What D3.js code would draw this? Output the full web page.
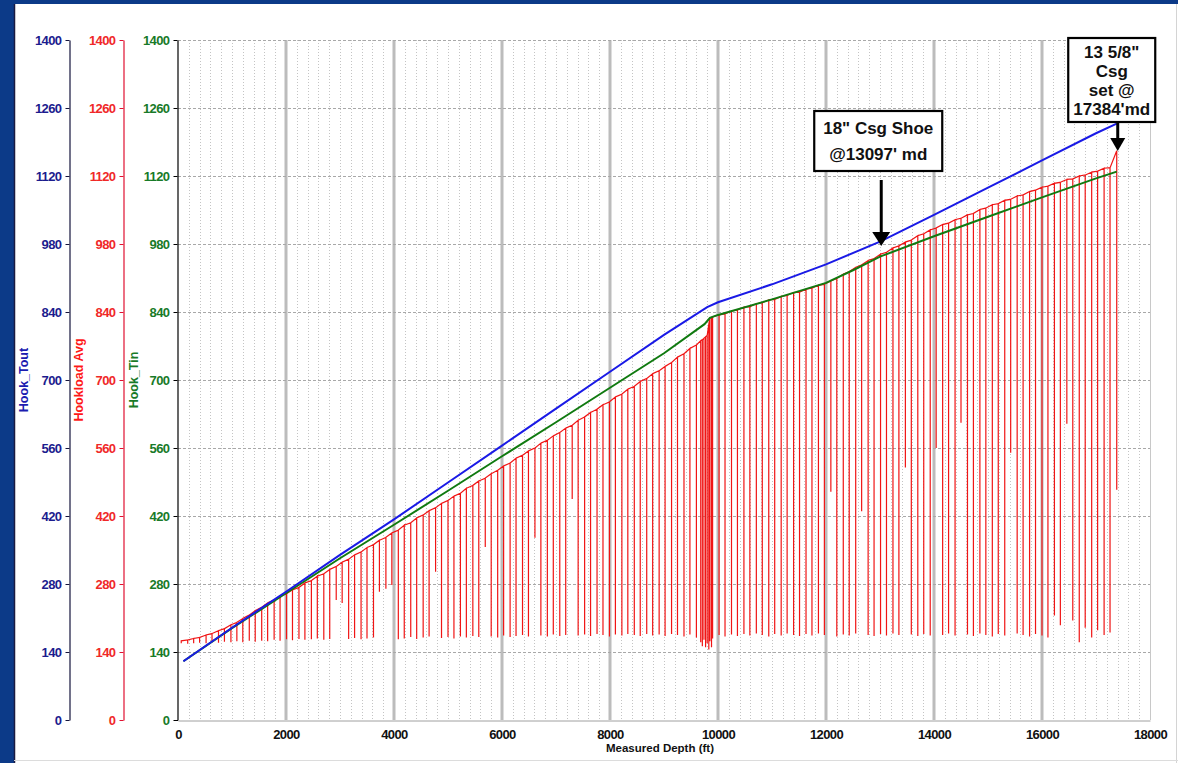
<!DOCTYPE html>
<html><head><meta charset="utf-8">
<script src="https://cdn.jsdelivr.net/npm/d3@7"></script>
<style>html,body{margin:0;padding:0;background:#0c3a88;overflow:hidden}svg{display:block}</style>
</head><body><svg id="c" width="1178" height="763"></svg>
<script>
// ---------- data ----------
const xTicks = [0,2000,4000,6000,8000,10000,12000,14000,16000,18000];
const yTicks = [0,140,280,420,560,700,840,980,1120,1260,1400];
const xTitle = "Measured Depth (ft)";
const axisTitles = ["Hook_Tout","Hookload Avg","Hook_Tin"];

// Hook_Tout (blue)
const toutDepth = [100,1000,2000,3000,4000,5000,6000,7000,8000,9000,9800,10000,11000,12000,13000,14000,15000,16000,17000,17384];
const toutVal   = [121,190,264,340,413,489,565,641,717,793,850,860,897,938,985,1040,1096,1152,1208,1228];

// Hook_Tin (green)
const tinDepth = [100,1000,2000,3000,4000,5000,6000,7000,8000,9000,9750,9850,10000,11000,12000,12500,13000,14000,15000,16000,17000,17384];
const tinVal   = [121,189,261,333,402,472,543,613,684,755,815,828,834,866,900,926,954,996,1036,1076,1115,1129];

// Hookload Avg (red): [depth, top of trace, bottom of drop]
const hookload = [
[60,163,158],[180,165,157],[290,168,158],[400,170,159],[520,175,158],[630,178,160],[750,184,159],[860,188,161],[980,196,160],[1090,201,162],[1200,209,160],[1320,216,163],[1430,225,161],[1550,232,163],[1660,241,162],[1780,247,165],[1890,255,163],[2010,260,166],
[2120,268,164],[2240,273,167],[2350,282,165],[2470,287,166],[2580,296,168],[2700,301,165],[2810,310,167],[2930,316,247],[3040,325,241],[3160,331,167],[3270,340,169],[3390,346,166],[3500,355,168],[3620,361,170],[3730,370,264],[3850,376,270],[3960,385,278],[4080,391,166],[4190,401,168],[4310,406,171],[4420,416,167],[4540,422,170],[4650,431,172],[4770,437,305],[4880,446,169],[5000,452,171],[5110,461,168],[5230,467,172],[5340,477,170],[5460,483,173],[5570,492,171],[5690,498,356],[5800,507,172],[5920,514,170],[6030,523,174],[6150,529,171],[6260,539,173],[6380,545,175],[6490,554,172],[6610,560,375],[6720,570,174],[6840,576,172],[6950,585,176],[7070,592,173],[7180,601,175],[7300,607,455],[7410,617,174],[7530,624,176],[7640,633,173],[7760,640,177],[7870,649,175],[7990,655,172],[8100,665,176],[8220,671,174],[8330,681,177],[8450,687,175],[8560,697,173],[8680,703,177],[8790,713,174],[8910,719,176],[9020,728,173],[9140,736,177],[9250,747,175],[9370,754,172],[9480,765,176],[9600,772,170],[9680,781,160],[9710,783,152],[9740,786,165],[9770,789,150],[9800,792,158],[9830,815,145],[9850,828,162],[9880,829,150],[9900,830,168],
[10020,834,175],[10130,836,172],[10250,842,176],[10360,844,173],[10480,850,177],[10590,851,174],[10710,857,178],[10820,859,175],[10940,865,172],[11050,866,177],[11170,872,174],[11280,874,178],[11400,880,175],[11510,881,173],[11630,887,177],[11740,889,174],[11860,895,178],[11970,897,175],[12090,904,470],[12200,909,172],[12320,918,176],[12430,923,174],[12550,932,178],[12660,937,430],[12780,946,175],[12890,950,173],[13010,959,177],[13120,963,174],[13240,972,178],[13350,976,175],[13470,984,520],[13580,988,176],[13700,997,173],[13810,1001,177],[13930,1009,174],[14040,1013,560],[14160,1020,175],[14270,1023,178],[14390,1030,174],[14500,1033,612],[14620,1040,176],[14730,1043,173],[14850,1051,178],[14960,1054,175],[15080,1061,172],[15190,1063,177],[15310,1070,174],[15420,1072,550],[15540,1079,178],[15650,1081,175],[15770,1088,172],[15880,1091,177],[16000,1097,174],[16110,1099,170],[16230,1105,215],[16340,1107,195],[16460,1113,610],[16570,1114,205],[16690,1120,160],[16800,1122,190],[16920,1128,170],[17030,1130,185],[17150,1136,175],[17260,1137,180],[17384,1172,474]
];

const anno1Lines = ['18" Csg Shoe', "@13097' md"];
const anno1Depth = 13097;
const anno2Lines = ['13 5/8"', 'Csg', 'set @', "17384'md"];
const anno2Depth = 17384;

// ---------- drawing ----------
const svg = d3.select("#c");
const W = 1178, H = 763;
svg.append("rect").attr("width",W).attr("height",H).attr("fill","#0c3a88");
svg.append("rect").attr("x",14).attr("y",4).attr("width",W-14).attr("height",H-4).attr("fill","#ffffff");
svg.append("line").attr("x1",14.5).attr("x2",14.5).attr("y1",4).attr("y2",H).attr("stroke","#1a1a40").attr("stroke-width",1.5);
svg.append("line").attr("x1",1176.5).attr("x2",1176.5).attr("y1",4).attr("y2",H).attr("stroke","#d4d4d4");
svg.append("line").attr("x1",14).attr("x2",W).attr("y1",760.5).attr("y2",760.5).attr("stroke","#dcdcdc");

const x = d3.scaleLinear().domain([0,18000]).range([178,1150]);
const y = d3.scaleLinear().domain([0,1400]).range([720,40]);

const grid = svg.append("g");
const minor = d3.range(200, 18000, 200).filter(v => v % 2000 !== 0);
grid.selectAll("line.minor").data(minor).join("line")
  .attr("x1",d=>Math.round(x(d))+0.5).attr("x2",d=>Math.round(x(d))+0.5)
  .attr("y1",y(1400)).attr("y2",y(0))
  .attr("stroke","#c4c4c4").attr("stroke-dasharray","1,2");
grid.selectAll("line.major").data(xTicks.filter(v=>v>0 && v<18000)).join("line")
  .attr("x1",d=>x(d)).attr("x2",d=>x(d))
  .attr("y1",y(1400)).attr("y2",y(0))
  .attr("stroke","#bcbcbc").attr("stroke-width",3);
grid.append("line").attr("x1",x(18000)+0.5).attr("x2",x(18000)+0.5).attr("y1",y(1400)).attr("y2",y(0))
  .attr("stroke","#c8c8c8");
grid.selectAll("line.h").data(yTicks.filter(v=>v>0)).join("line")
  .attr("x1",x(0)).attr("x2",x(18000))
  .attr("y1",d=>Math.round(y(d))+0.5).attr("y2",d=>Math.round(y(d))+0.5)
  .attr("stroke","#a8a8a8").attr("stroke-dasharray","3,2");

// red trace
let redPts = [];
hookload.forEach(d => { redPts.push([d[0],d[1]]); redPts.push([d[0],d[2]]); redPts.push([d[0],d[1]]); });
const line = d3.line().x(d=>x(d[0])).y(d=>y(d[1]));
svg.append("path").datum(redPts).attr("d",line)
  .attr("fill","none").attr("stroke","#f01515").attr("stroke-width",1.2);

svg.append("path").datum(tinDepth.map((d,i)=>[d,tinVal[i]])).attr("d",line)
  .attr("fill","none").attr("stroke","#107a10").attr("stroke-width",2);
svg.append("path").datum(toutDepth.map((d,i)=>[d,toutVal[i]])).attr("d",line)
  .attr("fill","none").attr("stroke","#1a1ae6").attr("stroke-width",2);

// axes
const font = "'Liberation Sans', Arial, sans-serif";
function styleText(sel, color){
  sel.attr("fill",color).style("font-family",font).style("font-weight","bold")
    .style("font-size","13px").style("letter-spacing","-0.6px");
}
function yAxis(xPos, color, lineColor){
  const g = svg.append("g").attr("transform",`translate(${xPos},0)`)
    .call(d3.axisLeft(y).tickValues(yTicks).tickFormat(d3.format("d")).tickSize(4).tickSizeOuter(0).tickPadding(4));
  g.select(".domain").attr("stroke",lineColor).attr("stroke-width",1.2);
  g.selectAll(".tick line").attr("stroke",lineColor);
  styleText(g.selectAll("text"), color);
  return g;
}
yAxis(69.5, "#1c1c8e", "#14143c");
yAxis(123.5, "#f02828", "#e01030");
yAxis(177.5, "#187a28", "#000000");

const xa = svg.append("g").attr("transform",`translate(0,${y(0)+0.5})`)
  .call(d3.axisBottom(x).tickValues(xTicks).tickFormat(d3.format("d")).tickSize(0).tickPadding(9));
xa.select(".domain").attr("stroke","#a0a0a0");
styleText(xa.selectAll("text"), "#111");
svg.append("line").attr("x1",174).attr("x2",178).attr("y1",720.5).attr("y2",720.5).attr("stroke","#000");

svg.append("text").attr("x",660).attr("y",752).attr("text-anchor","middle")
  .attr("fill","#111").style("font-family",font).style("font-weight","bold").style("font-size","11.5px").text(xTitle);

const titleX = [24, 79, 134], titleC = ["#1c1cb0","#ff1818","#187a28"];
axisTitles.forEach((t,i)=>{
  svg.append("text").attr("transform",`translate(${titleX[i]+4},380) rotate(-90)`)
    .attr("text-anchor","middle").attr("fill",titleC[i])
    .style("font-family",font).style("font-weight","bold").style("font-size","12.5px").text(t);
});

// annotations
function annotate(lines, w, cx, top, bottom, arrowX, arrowTop, tipY, hw, hh){
  const g = svg.append("g");
  g.append("rect").attr("x",cx-w/2).attr("y",top).attr("width",w).attr("height",bottom-top)
    .attr("fill","#fff").attr("stroke","#000").attr("stroke-width",2.2);
  const lh = (bottom-top-8)/lines.length;
  lines.forEach((l,i)=>{
    g.append("text").attr("x",cx).attr("y",top+4+lh*(i+0.5)).attr("dy","0.36em")
      .attr("text-anchor","middle").attr("fill","#111")
      .style("font-family",font).style("font-weight","bold").style("font-size","17px").text(l);
  });
  g.append("line").attr("x1",arrowX).attr("x2",arrowX).attr("y1",arrowTop).attr("y2",tipY-hh+1)
    .attr("stroke","#000").attr("stroke-width",3);
  g.append("path").attr("d",`M${arrowX-hw},${tipY-hh} L${arrowX+hw},${tipY-hh} L${arrowX},${tipY} Z`).attr("fill","#000");
}
annotate(anno1Lines, 128, x(anno1Depth)-7, 111, 171, x(anno1Depth)-4, 180, 246, 9, 14);
annotate(anno2Lines, 87, x(anno2Depth)-5, 38, 122, x(anno2Depth)+1, 122, 151, 7.5, 13);
</script>
</body></html>
